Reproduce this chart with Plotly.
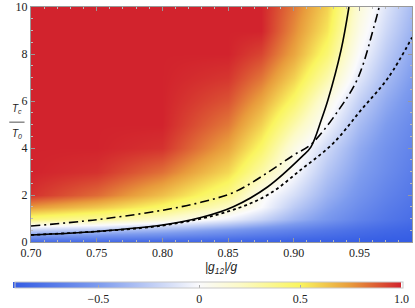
import plotly.graph_objects as go

# ---------------- data ----------------
grid_x = [0.70, 0.75, 0.80, 0.85, 0.875, 0.90, 0.925, 0.95, 0.97, 0.99]
grid_y = [0, 0.5, 1, 1.5, 2, 3, 4, 5, 6, 7, 8, 9, 10]
grid_z = [
    [-0.85, -0.86, -0.87, -0.88, -0.89, -0.90, -0.90, -0.91, -0.92, -0.92],
    [-0.22, -0.28, -0.38, -0.52, -0.60, -0.67, -0.74, -0.80, -0.84, -0.87],
    [0.42, 0.33, 0.18, -0.05, -0.20, -0.38, -0.53, -0.66, -0.74, -0.80],
    [0.75, 0.63, 0.47, 0.20, 0.00, -0.25, -0.45, -0.60, -0.70, -0.77],
    [0.97, 0.85, 0.65, 0.38, 0.05, -0.15, -0.38, -0.55, -0.66, -0.74],
    [1.00, 0.97, 0.84, 0.58, 0.30, 0.00, -0.28, -0.48, -0.60, -0.70],
    [1.00, 1.00, 0.97, 0.72, 0.47, 0.10, -0.18, -0.42, -0.56, -0.66],
    [1.00, 1.00, 1.00, 0.82, 0.60, 0.28, -0.03, -0.33, -0.50, -0.62],
    [1.00, 1.00, 1.00, 0.90, 0.72, 0.46, 0.10, -0.22, -0.42, -0.56],
    [1.00, 1.00, 1.00, 0.96, 0.83, 0.60, 0.28, -0.10, -0.33, -0.50],
    [1.00, 1.00, 1.00, 1.00, 0.93, 0.72, 0.44, 0.00, -0.25, -0.44],
    [1.00, 1.00, 1.00, 1.00, 1.00, 0.78, 0.54, 0.08, -0.18, -0.38],
    [1.00, 1.00, 1.00, 1.00, 1.00, 0.82, 0.60, 0.14, -0.12, -0.33],
]

solid_x = [0.70, 0.75, 0.80, 0.83, 0.854, 0.88, 0.906, 0.913, 0.921, 0.926, 0.936, 0.942]
solid_y = [0.30, 0.45, 0.72, 1.05, 1.50, 2.34, 3.62, 4.04, 5.20, 6.04, 8.17, 10.0]

dashdot_x = [0.70, 0.75, 0.80, 0.83, 0.855, 0.88, 0.90, 0.913, 0.934, 0.949, 0.961, 0.965]
dashdot_y = [0.68, 0.95, 1.35, 1.70, 2.13, 2.95, 3.70, 4.15, 5.60, 7.00, 9.15, 10.0]

dotted_x = [0.70, 0.80, 0.85, 0.88, 0.906, 0.93, 0.951, 0.972, 0.99]
dotted_y = [0.30, 0.70, 1.30, 2.00, 3.10, 4.20, 5.60, 7.00, 8.70]

x_ticks = [0.70, 0.75, 0.80, 0.85, 0.90, 0.95]
y_ticks = [0, 2, 4, 6, 8, 10]
cb_tickvals = [-0.5, 0, 0.5, 1.0]
cb_ticktext = ["\u22120.5", "0", "0.5", "1.0"]

zmin, zmax = -0.92, 1.0005

# ---------------- colours ----------------
def nz(v):
    return min(1.0, (v - zmin) / (zmax - zmin))

colorscale = [
    [0.0, "rgb(52,92,228)"],
    [nz(-0.5), "rgb(125,155,238)"],
    [nz(-0.2), "rgb(200,212,246)"],
    [nz(0.0), "rgb(250,250,252)"],
    [nz(0.2), "rgb(252,250,200)"],
    [nz(0.5), "rgb(250,245,95)"],
    [nz(0.75), "rgb(232,155,60)"],
    [1.0, "rgb(210,35,45)"],
]

serif = "Liberation Serif, Times New Roman, serif"
sans = "Liberation Sans, Arial, sans-serif"

fig = go.Figure()
fig.add_trace(go.Heatmap(
    x=grid_x, y=grid_y, z=grid_z, zmin=zmin, zmax=zmax,
    zsmooth="best", colorscale=colorscale,
    colorbar=dict(
        orientation="h", lenmode="pixels", len=388, thickness=6,
        xref="container", yref="container",
        x=226 / 415, xanchor="center", y=1 - 282 / 308, yanchor="top",
        xpad=0, ypad=0,
        tickvals=cb_tickvals, ticktext=cb_ticktext,
        ticklabeloverflow="allow",
        tickfont=dict(family=serif, size=12, color="#222"),
        ticks="inside", ticklen=3, tickcolor="#aaa",
        outlinewidth=1, outlinecolor="#c8c8c8",
    ),
    hoverinfo="skip",
))

fig.add_trace(go.Scatter(x=solid_x, y=solid_y, mode="lines",
                         line=dict(color="black", width=1.6, shape="spline"),
                         showlegend=False))
fig.add_trace(go.Scatter(x=dashdot_x, y=dashdot_y, mode="lines",
                         line=dict(color="black", width=1.6, shape="spline",
                                   dash="9px,4px,2px,4px"),
                         showlegend=False))
fig.add_trace(go.Scatter(x=dotted_x, y=dotted_y, mode="lines",
                         line=dict(color="black", width=1.8, shape="spline",
                                   dash="3px,3px"),
                         showlegend=False))

fig.update_layout(
    width=415, height=308,
    margin=dict(l=31, r=3, t=7, b=66, autoexpand=False),
    paper_bgcolor="white", plot_bgcolor="white",
    showlegend=False,
    font=dict(family=serif),
    xaxis=dict(range=[0.70, 0.99], tickvals=x_ticks, tickformat=".2f",
               tickfont=dict(family=serif, size=12, color="#222"),
               showgrid=False, zeroline=False, automargin=False,
               showline=True, linecolor="#999", linewidth=1, mirror="allticks",
               ticks="inside", ticklen=4, tickcolor="#999",
               minor=dict(ticks="inside", ticklen=2, tickcolor="#bbb", dtick=0.01)),
    yaxis=dict(range=[0, 10], tickvals=y_ticks,
               tickfont=dict(family=serif, size=12, color="#222"),
               showgrid=False, zeroline=False, automargin=False,
               showline=True, linecolor="#999", linewidth=1, mirror="allticks",
               ticks="inside", ticklen=4, tickcolor="#999",
               minor=dict(ticks="inside", ticklen=2, tickcolor="#bbb", dtick=0.5)),
)

fig.add_annotation(text="<i>|g<sub>12</sub>|/g</i>", xref="paper", yref="paper",
                   x=0.501, y=-0.111, xanchor="center", yanchor="middle",
                   showarrow=False, font=dict(family=sans, size=12, color="#222"))
fig.add_annotation(text="<i>T<sub>c</sub></i>", xref="paper", yref="paper",
                   x=-0.037, y=0.533, xanchor="center", yanchor="bottom",
                   showarrow=False, font=dict(family=sans, size=10, color="#222"))
fig.add_annotation(text="<i>T<sub>0</sub></i>", xref="paper", yref="paper",
                   x=-0.037, y=0.492, xanchor="center", yanchor="top",
                   showarrow=False, font=dict(family=sans, size=10, color="#222"))
fig.add_shape(type="line", xref="paper", yref="paper",
              x0=-0.057, x1=-0.017, y0=0.510, y1=0.510,
              line=dict(color="#222", width=0.8))

fig.write_html("out.html", config={"displayModeBar": False},
               post_script="document.body.style.margin='0';document.body.style.padding='0';")
